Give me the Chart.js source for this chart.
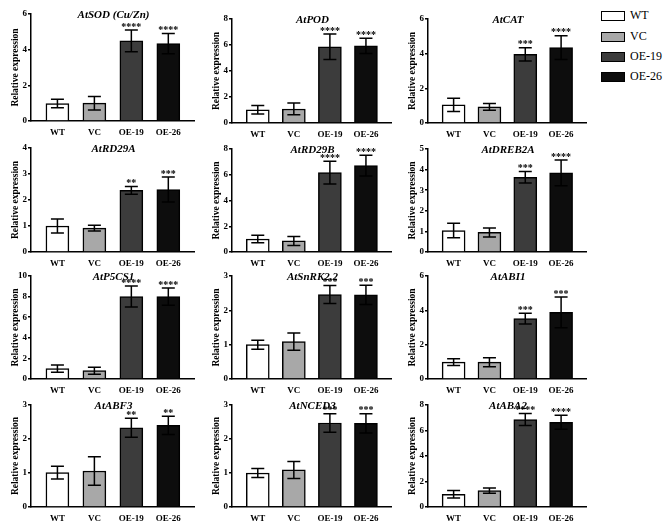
<!DOCTYPE html>
<html><head><meta charset="utf-8">
<script src="https://cdn.jsdelivr.net/npm/chart.js@4.4.1/dist/chart.umd.min.js"></script>
<style>
html,body{margin:0;padding:0;background:#fff;}
#wrap{position:relative;width:669px;height:530px;overflow:hidden;background:#fff;}
#wrap canvas{position:absolute;}
.lg{position:absolute;left:601px;height:12px;font:12px 'Liberation Serif',serif;color:#000;}
.lg .box{position:absolute;left:0;top:0;width:24px;height:10px;border:1.5px solid #000;box-sizing:border-box;}
.lg .t{position:absolute;left:29px;top:-3px;white-space:nowrap;line-height:14px;}
</style></head>
<body><div id="wrap"></div>
<script>
// ---------- data ----------
const groups = ['WT', 'VC', 'OE-19', 'OE-26'];
const geneNames = ['AtSOD (Cu/Zn)', 'AtPOD', 'AtCAT', 'AtRD29A', 'AtRD29B', 'AtDREB2A',
                   'AtP5CS1', 'AtSnRK2.2', 'AtABI1', 'AtABF3', 'AtNCED3', 'AtABA2'];

const meanSOD = [0.98, 1.00, 4.49, 4.34];   const sdSOD = [0.24, 0.38, 0.61, 0.57];   const sigSOD = ['', '', '****', '****'];
const meanPOD = [1.02, 1.08, 5.86, 5.93];   const sdPOD = [0.33, 0.45, 0.98, 0.58];   const sigPOD = ['', '', '****', '****'];
const meanCAT = [1.05, 0.93, 3.96, 4.35];   const sdCAT = [0.38, 0.20, 0.38, 0.68];   const sigCAT = ['', '', '***', '****'];
const meanRD29A = [1.00, 0.92, 2.37, 2.40]; const sdRD29A = [0.27, 0.11, 0.15, 0.48]; const sigRD29A = ['', '', '**', '***'];
const meanRD29B = [1.01, 0.86, 6.16, 6.71]; const sdRD29B = [0.30, 0.35, 0.88, 0.80]; const sigRD29B = ['', '', '****', '****'];
const meanDREB2A = [1.04, 0.95, 3.63, 3.84]; const sdDREB2A = [0.35, 0.22, 0.28, 0.62]; const sigDREB2A = ['', '', '***', '****'];
const meanP5CS1 = [1.00, 0.81, 8.00, 8.00]; const sdP5CS1 = [0.35, 0.34, 1.02, 0.84]; const sigP5CS1 = ['', '', '****', '****'];
const meanSnRK = [1.00, 1.09, 2.46, 2.45];  const sdSnRK = [0.13, 0.25, 0.26, 0.28];  const sigSnRK = ['', '', '***', '***'];
const meanABI1 = [0.98, 0.98, 3.52, 3.88];  const sdABI1 = [0.20, 0.26, 0.31, 0.90];  const sigABI1 = ['', '', '***', '***'];
const meanABF3 = [1.01, 1.06, 2.33, 2.40];  const sdABF3 = [0.19, 0.42, 0.28, 0.27];  const sigABF3 = ['', '', '**', '**'];
const meanNCED3 = [1.00, 1.09, 2.47, 2.46]; const sdNCED3 = [0.13, 0.25, 0.27, 0.28]; const sigNCED3 = ['', '', '***', '***'];
const meanABA2 = [1.00, 1.29, 6.86, 6.65];  const sdABA2 = [0.30, 0.21, 0.47, 0.55];  const sigABA2 = ['', '', '****', '****'];

const yMaxes = [6, 8, 6, 4, 8, 5, 10, 3, 6, 3, 3, 8];
const ySteps = [2, 2, 2, 1, 2, 1, 2, 1, 2, 1, 1, 2];
const yTitle = 'Relative expression';

const allMeans = [meanSOD, meanPOD, meanCAT, meanRD29A, meanRD29B, meanDREB2A, meanP5CS1, meanSnRK, meanABI1, meanABF3, meanNCED3, meanABA2];
const allSD = [sdSOD, sdPOD, sdCAT, sdRD29A, sdRD29B, sdDREB2A, sdP5CS1, sdSnRK, sdABI1, sdABF3, sdNCED3, sdABA2];
const allSig = [sigSOD, sigPOD, sigCAT, sigRD29A, sigRD29B, sigDREB2A, sigP5CS1, sigSnRK, sigABI1, sigABF3, sigNCED3, sigABA2];

// ---------- layout / style ----------
const groupColors = ['#ffffff', '#a8a8a8', '#3c3c3c', '#0d0d0d'];
const colAxisX = [31, 232, 428];
const colRightX = [194, 391, 586];
const rowTops = [[14, 19, 19], [148, 149, 149], [276, 276, 276], [405, 405, 405]];
const rowBottoms = [[121, 123, 123], [252, 252, 252], [379, 379, 379], [507, 507, 507]];
const YW = 31, XH = 20, PADTOP = 8, PADR = 3;
const SERIF = "'Liberation Serif', 'Times New Roman', serif";

const errorBars = {
  id: 'errorBars',
  afterDatasetsDraw(chart) {
    const ctx = chart.ctx;
    const y = chart.scales.y;
    const ds = chart.data.datasets[0];
    const meta = chart.getDatasetMeta(0);
    ctx.save();
    ctx.strokeStyle = '#000';
    ctx.lineWidth = 1.5;
    meta.data.forEach((bar, i) => {
      const v = ds.data[i], e = ds.errors[i];
      const cx = bar.x;
      const yt = y.getPixelForValue(v + e);
      const yb = y.getPixelForValue(v - e);
      ctx.beginPath();
      ctx.moveTo(cx, yt); ctx.lineTo(cx, yb);
      ctx.moveTo(cx - 6.5, yt); ctx.lineTo(cx + 6.5, yt);
      ctx.moveTo(cx - 6.5, yb); ctx.lineTo(cx + 6.5, yb);
      ctx.stroke();
      if (ds.sig[i]) {
        ctx.fillStyle = '#000';
        ctx.font = 'bold 10px ' + SERIF;
        ctx.textAlign = 'center';
        ctx.textBaseline = 'middle';
        ctx.fillText(ds.sig[i], cx, yt - 3);
      }
    });
    ctx.restore();
  }
};

const panelTitle = {
  id: 'panelTitle',
  afterDraw(chart) {
    const ca = chart.chartArea;
    const ctx = chart.ctx;
    ctx.save();
    ctx.fillStyle = '#000';
    ctx.font = 'italic bold 11px ' + SERIF;
    ctx.textAlign = 'center';
    ctx.textBaseline = 'middle';
    ctx.fillText(chart.data.datasets[0].label, (ca.left + ca.right) / 2 + 1, ca.top + 1);
    ctx.restore();
  }
};

const wrap = document.getElementById('wrap');

geneNames.forEach((name, k) => {
  const r = Math.floor(k / 3), c = k % 3;
  const top = rowTops[r][c], bottom = rowBottoms[r][c];
  const cv = document.createElement('canvas');
  const left = colAxisX[c] - YW;
  const w = colRightX[c] - colAxisX[c] + YW + PADR;
  const h = bottom - top + PADTOP + XH;
  cv.width = w; cv.height = h;
  cv.style.left = left + 'px';
  cv.style.top = (top - PADTOP) + 'px';
  cv.style.width = w + 'px'; cv.style.height = h + 'px';
  wrap.appendChild(cv);

  new Chart(cv, {
    type: 'bar',
    data: {
      labels: groups,
      datasets: [{
        label: name,
        data: allMeans[k],
        errors: allSD[k],
        sig: allSig[k],
        backgroundColor: groupColors,
        borderColor: '#000',
        borderWidth: 1.5,
        borderSkipped: 'bottom',
        barThickness: 23
      }]
    },
    options: {
      responsive: false,
      animation: false,
      devicePixelRatio: 1,
      layout: { padding: { top: PADTOP, right: PADR, left: 0, bottom: 0 } },
      plugins: { legend: { display: false }, tooltip: { enabled: false }, title: { display: false } },
      scales: {
        x: {
          type: 'category',
          offset: true,
          grid: { display: false, drawTicks: false },
          border: { display: true, color: '#000', width: 1.5 },
          ticks: { color: '#000', padding: 6, font: { family: SERIF, size: 9, weight: 'bold' }, maxRotation: 0, autoSkip: false },
          afterBuildTicks(s) { s._startValue = -0.715; s._valueRange = 4.41; },
          afterFit(s) { s.height = XH; }
        },
        y: {
          min: 0,
          max: yMaxes[k],
          ticks: { stepSize: ySteps[k], color: '#000', padding: 1, font: { family: SERIF, size: 9, weight: 'bold' } },
          grid: { display: true, drawOnChartArea: false, drawTicks: true, tickLength: 3, color: '#000', lineWidth: 1.5 },
          border: { display: true, color: '#000', width: 1.5 },
          title: { display: true, text: yTitle, color: '#000', padding: { top: 10, bottom: 0 }, font: { family: SERIF, size: 9.5, weight: 'bold' } },
          afterFit(s) { s.width = YW; }
        }
      }
    },
    plugins: [errorBars, panelTitle]
  });
});

// legend
const legendTops = [11, 32, 52, 72];
groups.forEach((g, i) => {
  const d = document.createElement('div');
  d.className = 'lg';
  d.style.top = legendTops[i] + 'px';
  const b = document.createElement('span');
  b.className = 'box';
  b.style.background = groupColors[i];
  const t = document.createElement('span');
  t.className = 't';
  t.textContent = g;
  d.appendChild(b); d.appendChild(t);
  wrap.appendChild(d);
});
</script>
</body></html>
